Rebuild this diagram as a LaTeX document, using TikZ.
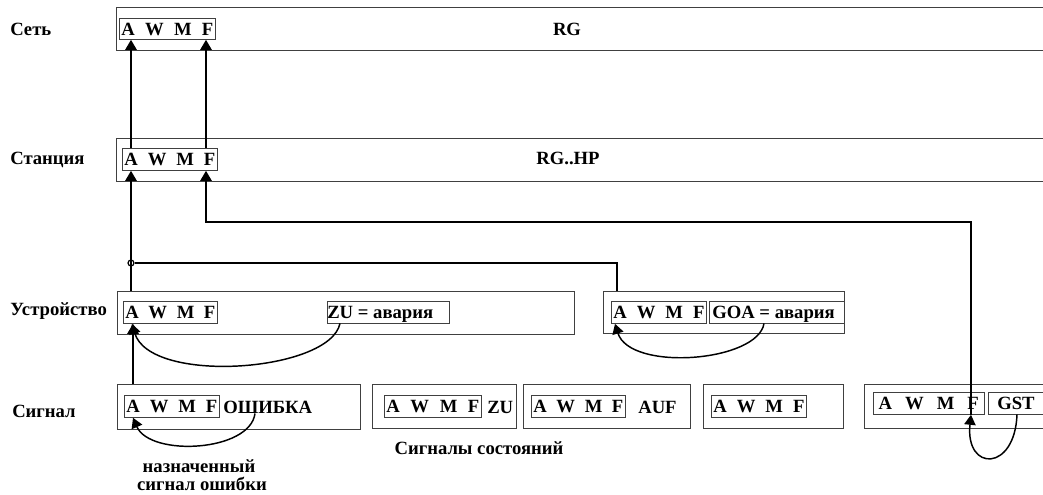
\documentclass[tikz,border=0pt]{standalone}
\usepackage{fontspec}
\setmainfont{Liberation Serif}
\usetikzlibrary{arrows.meta,fit,calc}
\newcommand{\awfont}{\fontsize{14}{16}\selectfont\bfseries}
\newcommand{\awmftext}{A\hfill W\hfill M\hfill F}
\tikzset{
  bigbox/.style={draw=black!75, line width=0.7pt, inner sep=0pt},
  awmf/.style={draw=black!75, line width=0.6pt, anchor=north west, inner xsep=1.5pt, inner ysep=0pt,
     minimum height=#1, text height=10pt, text depth=0.5pt, font=\awfont, align=left},
  sbox/.style={draw=black!75, line width=0.6pt, inner sep=0pt},
  lbl/.style={font=\awfont, inner sep=0pt},
  conn/.style={line width=1.1pt},
  arr/.style={line width=1.1pt, -{Triangle[length=7.5pt,width=8.5pt]}},
}
\begin{document}
\begin{tikzpicture}[x=0.75pt,y=-0.75pt]
\useasboundingbox (0,0) rectangle (1043,495);
\clip (0,0) rectangle (1043,495);
% row labels
\node[lbl, anchor=base west] (lnet) at (10,36) {Сеть};
\node[lbl, anchor=base west] (lst) at (10,165) {Станция};
\node[lbl, anchor=base west] (ldev) at (10,316) {Устройство};
\node[lbl, anchor=base west] (lsig) at (12,417) {Сигнал};
% big boxes
\node[bigbox, fit={(116,7) (1070,50)}] (net) {};
\node[bigbox, fit={(116,138) (1070,181)}] (st) {};
\node[bigbox, fit={(117,291) (574,334)}] (dev1) {};
\node[bigbox, fit={(603,291) (844,333)}] (dev2) {};
\node[bigbox, fit={(117,384) (360,429)}] (sig1) {};
\node[bigbox, fit={(372,384) (516,428)}] (sig2) {};
\node[bigbox, fit={(523,384) (690,428)}] (sig3) {};
\node[bigbox, fit={(703,384) (843,428)}] (sig4) {};
\node[bigbox, fit={(864,384) (1070,428)}] (sig5) {};
% AWMF boxes
\node[awmf=15.75pt, text width=69pt] (netawmf) at (119,18) {\awmftext};
\node[awmf=16.5pt, text width=68.25pt] (stawmf) at (122,148) {\awmftext};
\node[awmf=16.5pt, text width=67.5pt] (dev1awmf) at (123,301) {\awmftext};
\node[awmf=16.5pt, text width=68.25pt] (dev2awmf) at (611,301) {\awmftext};
\node[awmf=16.5pt, text width=68.25pt] (sig1awmf) at (124,395) {\awmftext};
\node[awmf=16.5pt, text width=69.75pt] (sig2awmf) at (384,395) {\awmftext};
\node[awmf=16.5pt, text width=67.5pt] (sig3awmf) at (531,395) {\awmftext};
\node[awmf=16.5pt, text width=68.25pt] (sig4awmf) at (711,395) {\awmftext};
\node[awmf=16.5pt, text width=75pt, inner xsep=4pt] (sig5awmf) at (873,392) {\awmftext};
% other inner boxes
\node[sbox, fit={(327,301) (449,323)}] (zu) {};
\node[lbl, anchor=base west] (zut) at (327,319) {ZU = авария};
\node[sbox, fit={(709,301) (844,323)}] (goa) {};
\node[lbl, anchor=base west] (goat) at (712,319) {GOA = авария};
\node[sbox, fit={(988,392) (1070,414)}] (gst) {};
\node[lbl, anchor=base west] (gstt) at (997,410) {GST};
% texts
\node[lbl, anchor=base] (rg) at (567,36) {RG};
\node[lbl, anchor=base] (rghp) at (568,165) {RG..HP};
\node[lbl, anchor=base west] (osh) at (223,413) {ОШИБКА};
\node[lbl, anchor=base west] (zu2) at (487,413) {ZU};
\node[lbl, anchor=base west] (auf) at (638,413) {AUF};
\node[lbl, anchor=base] (sost) at (479,454) {Сигналы состояний};
\node[lbl, anchor=base] (nazn) at (199,472) {назначенный};
\node[lbl, anchor=base] (sigosh) at (202,490) {сигнал ошибки};
% x positions
\coordinate (xa) at (131,0);
\coordinate (xf) at (206,0);
\coordinate (xd1) at (132,0);
\coordinate (xd2) at (615,0);
\coordinate (xs1) at (133,0);
\coordinate (xs5) at (971,0);
% junction
\node[circle, draw, line width=0.9pt, inner sep=0pt, minimum size=4.5pt] (junc) at (131,263) {};
\coordinate (tfy) at (0,222);
% connectors
\draw[arr] (stawmf.north -| xa) -- (netawmf.south -| xa);
\draw[arr] (stawmf.north -| xf) -- (netawmf.south -| xf);
\draw[arr] (dev1.north -| xa) -- (stawmf.south -| xa);
\draw[conn] (junc) -| (dev2.north -| 617,0);
\draw[arr] (sig5awmf.south -| xs5) -- (xs5 |- tfy) -| (stawmf.south -| xf);
\draw[arr] (sig1.north -| xs1) -- (dev1awmf.south -| xs1);
% curved arrows
\draw[arr] (zu.south -| 340,0) .. controls (330,372) and (150,385) .. (dev1awmf.south -| xd1);
\draw[arr] (goa.south -| 764,0) .. controls (758,362) and (630,372) .. (dev2awmf.south -| xd2);
\draw[arr] (osh.south -| 255,0) .. controls (250,452) and (150,457) .. (sig1awmf.south -| xs1);
\draw[arr] (gst.south -| 1017,0) .. controls (1015,472) and (965,472) .. (sig5awmf.south -| xs5);
\end{tikzpicture}
\end{document}
